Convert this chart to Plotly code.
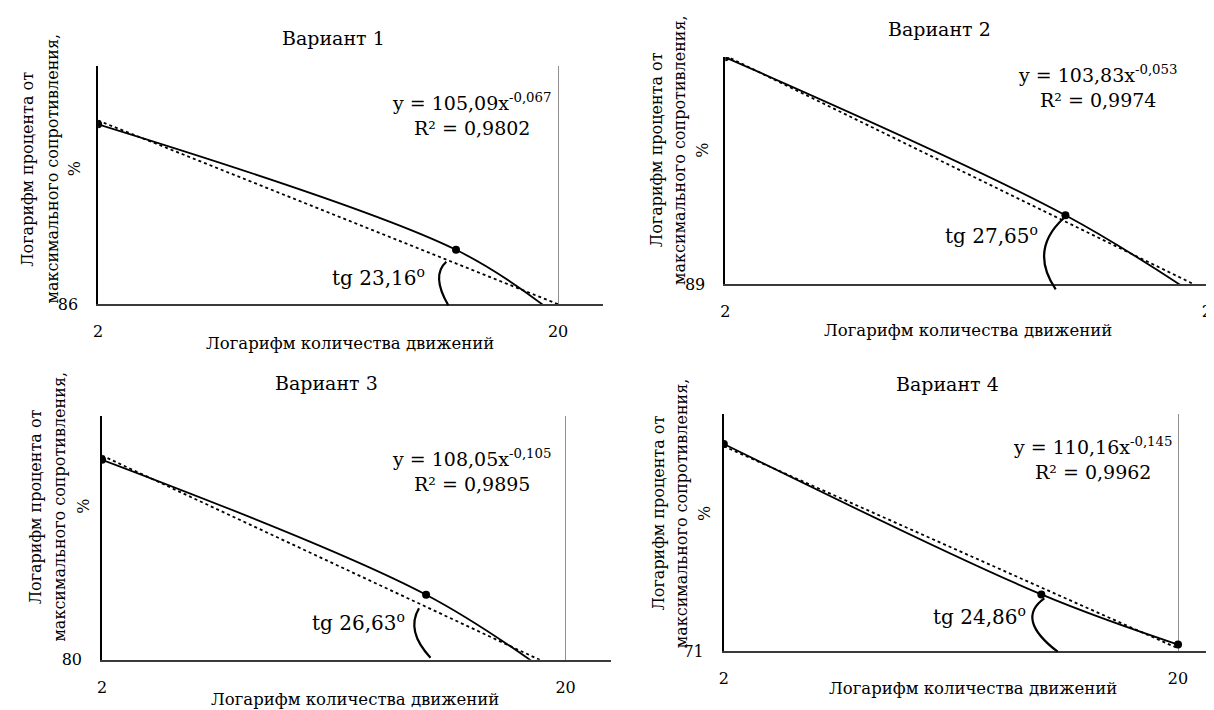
import math
import plotly.graph_objects as go

# ---------------- data ----------------
variant_titles = ["Вариант 1", "Вариант 2", "Вариант 3", "Вариант 4"]

moves_v1 = [2, 12, 20]
resist_v1 = [100, 90.0, 85.1]
moves_v2 = [2, 10, 20]
resist_v2 = [100, 92.2, 88.0]
moves_v3 = [2, 10, 20]
resist_v3 = [100, 86.0, 77.7]
moves_v4 = [2, 10, 20]
resist_v4 = [100, 78.0, 71.8]

trend_coef = [105.09, 103.83, 108.05, 110.16]
trend_exp = [-0.067, -0.053, -0.105, -0.145]
r_squared = [0.9802, 0.9974, 0.9895, 0.9962]
tg_angles = [23.16, 27.65, 26.63, 24.86]

y_axis_min = [86, 89, 80, 71]
y_axis_max = [105, 100, 105, 105]
x_axis_max = [25, 20.2, 25, 24]
x_ticks = [2, 20]
trend_x_span = [2, 20]

x_title = "Логарифм количества движений"
y_title_lines = ["Логарифм процента от", "максимального сопротивления,", "%"]

moves = [moves_v1, moves_v2, moves_v3, moves_v4]
resist = [resist_v1, resist_v2, resist_v3, resist_v4]

# ---------------- layout helpers ----------------
W, H = 1214, 710
FONT = "DejaVu Serif"


def px(x):
    return x / W


def py(y):
    return 1 - y / H


# plot-area boxes in pixels: left, right, top, bottom
boxes = [
    (86, 596, 59, 300),
    (720, 1214, 50, 280),
    (90, 604, 413.3, 660),
    (718.5, 1214, 411.7, 651.7),
]
title_pos = [(324, 30), (937, 21), (316.5, 380), (945, 381)]
eq_pos = [(464, 108), (1097, 80), (464, 468), (1092, 456)]
tg_pos = [(320, 272), (940, 230), (300, 622), (928, 616)]
arc_pts = [
    ((438, 257), (422.4, 271), (440, 301)),
    ((1062, 213), (1027, 245), (1054, 285)),
    ((410.4, 608), (396.8, 631), (422, 658)),
    ((1042.5, 598), (1012.75, 619), (1056, 652)),
]
ytitle_x = [(15, 40, 63), (650, 673, 697), (23, 47.5, 71), (652, 676, 699)]
ytitle_y = [163, 144, 505, 512]
xtitle_pos = [(341, 340), (965, 327), (346, 700), (970, 689)]


def fmt(v, d):
    return f"{v:.{d}f}".replace(".", ",")


fig = go.Figure()
annotations = []
shapes = []
layout = {}

for i in range(4):
    sfx = "" if i == 0 else str(i + 1)
    xa, ya = "x" + sfx, "y" + sfx
    left, right, top, bottom = boxes[i]

    # data line (smoothed) with markers
    fig.add_trace(go.Scatter(
        x=moves[i], y=resist[i], xaxis=xa, yaxis=ya,
        mode="lines+markers",
        line=dict(color="black", width=1.8, shape="spline", smoothing=1.0),
        marker=dict(color="black", size=8),
        showlegend=False, hoverinfo="skip"))

    # power trendline
    ty = [trend_coef[i] * (x ** trend_exp[i]) for x in trend_x_span]
    fig.add_trace(go.Scatter(
        x=trend_x_span, y=ty, xaxis=xa, yaxis=ya, mode="lines",
        line=dict(color="black", width=1.8, dash="dot"),
        showlegend=False, hoverinfo="skip"))

    layout["xaxis" + sfx] = dict(
        type="log", domain=[px(left), px(right)],
        range=[math.log10(2) - 1e-4, math.log10(x_axis_max[i])],
        anchor=ya, showline=True, linecolor="#3a3a3a", linewidth=1.6,
        showgrid=True, gridcolor="#8f8f8f", gridwidth=1.3,
        tickvals=x_ticks, ticktext=[str(t) for t in x_ticks], ticks="",
        ticklabelstandoff=12, ticklabeloverflow="allow",
        tickfont=dict(family=FONT, size=16, color="black"),
        zeroline=False, fixedrange=True)
    layout["yaxis" + sfx] = dict(
        type="log", domain=[py(bottom), py(top)],
        range=[math.log10(y_axis_min[i]) - 1e-4, math.log10(y_axis_max[i])],
        anchor=xa, showline=True, linecolor="black", linewidth=1.6,
        showgrid=False, tickvals=[y_axis_min[i]], ticktext=[str(y_axis_min[i])],
        ticks="", ticklabelstandoff=15,
        tickfont=dict(family=FONT, size=16, color="black"),
        zeroline=False, fixedrange=True)

    tx, tyy = title_pos[i]
    annotations.append(dict(text=variant_titles[i], x=px(tx), y=py(tyy),
                            xref="paper", yref="paper", showarrow=False,
                            xanchor="center", yanchor="middle",
                            font=dict(family=FONT, size=19, color="black")))
    ex, ey = eq_pos[i]
    annotations.append(dict(
        text=(f"y = {fmt(trend_coef[i], 2)}x<sup>{fmt(trend_exp[i], 3)}</sup>"
              f"<br>R² = {fmt(r_squared[i], 4)}"),
        x=px(ex), y=py(ey), xref="paper", yref="paper", showarrow=False,
        xanchor="center", yanchor="middle", align="center",
        font=dict(family=FONT, size=19, color="black")))
    gx, gy = tg_pos[i]
    annotations.append(dict(
        text=f"tg {fmt(tg_angles[i], 2)}<sup>o</sup>",
        x=px(gx), y=py(gy), xref="paper", yref="paper", showarrow=False,
        xanchor="left", yanchor="middle",
        font=dict(family=FONT, size=20, color="black")))
    for line_txt, lx in zip(y_title_lines, ytitle_x[i]):
        annotations.append(dict(
            text=line_txt, x=px(lx), y=py(ytitle_y[i]), xref="paper",
            yref="paper", showarrow=False, textangle=-90,
            xanchor="center", yanchor="middle",
            font=dict(family=FONT, size=16, color="black")))
    xx, xy = xtitle_pos[i]
    annotations.append(dict(
        text=x_title, x=px(xx), y=py(xy), xref="paper", yref="paper",
        showarrow=False, xanchor="center", yanchor="middle",
        font=dict(family=FONT, size=16.5, color="black")))

    p0, c, p1 = arc_pts[i]
    path = (f"M {px(p0[0])},{py(p0[1])} Q {px(c[0])},{py(c[1])} "
            f"{px(p1[0])},{py(p1[1])}")
    shapes.append(dict(type="path", path=path, xref="paper", yref="paper",
                       line=dict(color="black", width=2.2)))

fig.update_layout(
    width=W, height=H, margin=dict(l=0, r=0, t=0, b=0),
    paper_bgcolor="white", plot_bgcolor="white",
    font=dict(family=FONT, color="black"),
    annotations=annotations, shapes=shapes, showlegend=False,
    **layout)

fig.write_html("out.html")
